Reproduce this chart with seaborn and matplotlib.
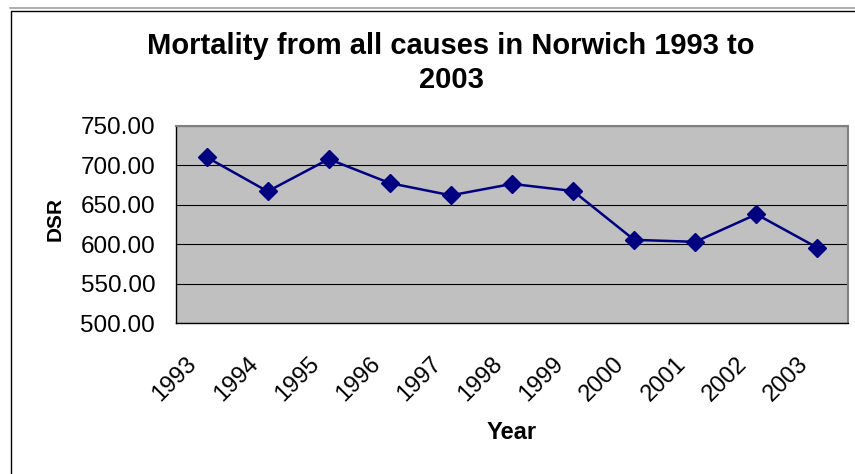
import matplotlib
matplotlib.use("Agg")
import matplotlib.pyplot as plt
import matplotlib.transforms as mtransforms
from matplotlib.lines import Line2D
import numpy as np
import pandas as pd
import seaborn as sns

# Directly standardised mortality rate (all causes), Norwich
years = ["1993", "1994", "1995", "1996", "1997", "1998",
         "1999", "2000", "2001", "2002", "2003"]
dsr = [710.5, 667.0, 708.0, 677.5, 662.0, 676.5,
       667.5, 605.5, 603.0, 638.0, 595.5]
y_ticks = [500, 550, 600, 650, 700, 750]

title = "Mortality from all causes in Norwich 1993 to\n2003"
x_title = "Year"
y_title = "DSR"

sns.set_style("white")
plt.rcParams["font.family"] = ["Liberation Sans", "DejaVu Sans"]
plt.rcParams.update({"text.color": "black", "axes.labelcolor": "black",
                     "xtick.color": "black", "ytick.color": "black"})

df = pd.DataFrame({"pos": np.arange(len(years)), "dsr": dsr})

fig = plt.figure(figsize=(8.55, 4.74), dpi=100)
fig.patch.set_facecolor("white")
W, H = 855, 474
ax = fig.add_axes([176 / W, 1 - 323 / H, (848 - 176) / W, (323 - 126) / H])
ax.set_facecolor("#C0C0C0")

sns.lineplot(data=df, x="pos", y="dsr", ax=ax, color="#000080",
             linewidth=1.8, marker="D", markersize=9,
             markeredgecolor="#000080", markeredgewidth=1, zorder=3)

# value axis
ax.set_ylim(500, 750)
ax.set_yticks(y_ticks)
ax.set_yticklabels([f"{v:.2f}" for v in y_ticks], fontsize=17.5)
ax.yaxis.grid(True, color="black", linewidth=0.8)
ax.set_axisbelow(True)
ax.tick_params(axis="y", direction="out", length=8, width=0.8,
               color="black", pad=7)

# category axis: marks between categories, labels centred on them
ax.set_xlim(-0.5, len(years) - 0.5)
ax.set_xticks(np.arange(-0.5, len(years), 1.0))
ax.set_xticklabels([])
ax.tick_params(axis="x", which="major", direction="out", length=8,
               width=0.8, color="black")
ax.set_xticks(df["pos"], labels=years, minor=True)
ax.tick_params(axis="x", which="minor", length=0, pad=27)
shift = mtransforms.ScaledTranslation(-0.13, 0, fig.dpi_scale_trans)
for lab in ax.get_xticklabels(minor=True):
    lab.set_rotation(45)
    lab.set_rotation_mode("anchor")
    lab.set_ha("right")
    lab.set_va("center")
    lab.set_fontsize(17)
    lab.set_transform(lab.get_transform() + shift)

for side in ["left", "bottom"]:
    ax.spines[side].set_color("black")
    ax.spines[side].set_linewidth(1.0)
for side in ["top", "right"]:
    ax.spines[side].set_color("#808080")
    ax.spines[side].set_linewidth(1.5)

ax.set_xlabel(x_title, fontsize=17, fontweight="bold")
ax.set_ylabel(y_title, fontsize=15, fontweight="bold")
ax.xaxis.set_label_coords(0.5, -0.495)
ax.yaxis.set_label_coords(-0.165, 0.53)

fig.suptitle(title, x=451 / W, y=1 - 63 / H, va="center", ha="center",
             fontsize=21, fontweight="bold", linespacing=1.3)

# chart frame
fig.add_artist(Line2D([10 / W, 1], [1 - 7.5 / H, 1 - 7.5 / H],
                      transform=fig.transFigure, color="#B0B0B0", lw=1.5))
fig.add_artist(Line2D([10.5 / W, 10.5 / W, 1], [0, 1 - 10.5 / H, 1 - 10.5 / H],
                      transform=fig.transFigure, color="black", lw=1.0))

fig.savefig("out.png", dpi=100, facecolor="white")
